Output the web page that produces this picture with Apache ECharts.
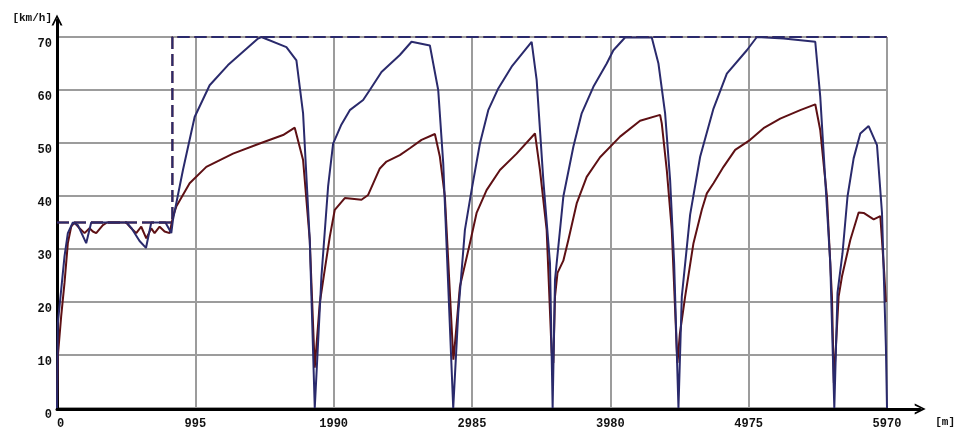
<!DOCTYPE html>
<html>
<head>
<meta charset="utf-8">
<script src="https://cdn.jsdelivr.net/npm/echarts@6/dist/echarts.min.js"></script>
<style>
html,body{margin:0;padding:0;background:#fff;}
#chart{width:958px;height:430px;}
</style>
</head>
<body>
<div id="chart"></div>
<script>
// Distance ticks [m] and speed ticks [km/h]
const xTicks = [0, 995, 1990, 2985, 3980, 4975, 5970];
const yTicks = [0, 10, 20, 30, 40, 50, 60, 70];

// Speed limit (dashed)
const limitDist  = [0, 830, 830, 5970];
const limitSpeed = [35, 35, 70, 70];

// Navy speed curve
const blueDist  = [0, 6, 30, 54, 78, 114, 150, 210, 246, 300, 500, 534, 594, 640, 678, 780, 822, 834, 906, 990, 1098, 1230, 1446, 1470, 1650, 1722, 1770, 1818, 1854, 1902, 1950, 1986, 2046, 2106, 2202, 2250, 2334, 2466, 2550, 2682, 2742, 2778, 2850, 2886, 2934, 2982, 3042, 3102, 3174, 3270, 3414, 3450, 3498, 3546, 3565, 3582, 3642, 3714, 3774, 3858, 3954, 4002, 4086, 4278, 4326, 4374, 4410, 4439, 4470, 4494, 4554, 4626, 4722, 4818, 4962, 5034, 5226, 5454, 5490, 5526, 5562, 5591, 5614, 5650, 5686, 5730, 5778, 5838, 5898, 5934, 5962, 5970];
const blueSpeed = [0, 16, 22.3, 28.6, 33, 35, 34.5, 31.1, 35, 35, 35, 34, 31.5, 30.2, 35, 35, 33, 35.5, 44.9, 54.9, 60.9, 64.7, 69.7, 70, 68.1, 65.6, 55.6, 31.7, 0, 24.8, 41.8, 49.9, 53.5, 56.2, 58.1, 60, 63.4, 66.6, 69.1, 68.4, 60, 46.2, 0, 17.9, 33.6, 41.1, 49.9, 56.2, 60.3, 64.4, 69.1, 61.9, 43, 27.3, 0, 24.2, 39.9, 49.3, 55.6, 60.6, 65, 67.5, 69.9, 69.9, 65, 55.6, 43, 27.3, 0, 21, 36.5, 47.4, 56.5, 63.1, 67.5, 70, 69.7, 69.1, 58.7, 43, 27.3, 0, 21.7, 29.2, 39.9, 47.1, 51.8, 53.2, 49.6, 36.8, 11.6, 0];

// Dark red speed curve
const redDist  = [0, 6, 30, 54, 78, 102, 126, 162, 198, 234, 258, 282, 330, 360, 498, 534, 570, 606, 642, 678, 702, 738, 774, 810, 834, 858, 954, 1074, 1266, 1458, 1626, 1710, 1770, 1818, 1854, 1890, 1926, 1962, 1998, 2070, 2190, 2238, 2322, 2370, 2466, 2538, 2622, 2718, 2754, 2790, 2851, 2862, 2898, 2970, 3018, 3090, 3186, 3306, 3438, 3474, 3522, 3558, 3570, 3582, 3600, 3642, 3678, 3738, 3810, 3906, 4050, 4194, 4338, 4350, 4386, 4422, 4458, 4463, 4480, 4518, 4578, 4638, 4674, 4722, 4794, 4878, 4986, 5082, 5202, 5346, 5454, 5490, 5538, 5574, 5588, 5622, 5646, 5706, 5766, 5802, 5874, 5922, 5950, 5962];
const redSpeed = [0, 9.8, 17.3, 23.6, 31.1, 34.2, 35, 33.9, 33, 33.9, 33.3, 33, 34.5, 35, 35, 33.9, 33, 34.2, 32, 33.9, 33, 34.2, 33.3, 33, 36.1, 38, 42.4, 45.5, 48, 49.9, 51.5, 52.9, 46.8, 31.7, 7.6, 19.8, 26.1, 32.3, 37.4, 39.6, 39.3, 40.2, 45.2, 46.5, 47.7, 49, 50.6, 51.7, 47.4, 39.9, 9.1, 12, 22.9, 31.1, 36.8, 41.1, 44.9, 48, 51.8, 44.9, 33.6, 10.4, 8.5, 21, 25.5, 27.8, 31.7, 38.6, 43.6, 47.3, 51.2, 54.2, 55.3, 53.7, 44.9, 33.6, 11, 8.5, 14, 21, 31.1, 37.4, 40.5, 42.4, 45.5, 48.7, 50.6, 52.8, 54.6, 56.2, 57.3, 52.4, 39.9, 21, 4.7, 21, 24.8, 31.7, 36.9, 36.8, 35.6, 36.2, 25.5, 20];

function pairs(xs, ys) { return xs.map((x, i) => [x, ys[i]]); }

const NAVY = '#2a2a6c';
const RED = '#5e1014';
const FONT = 'Liberation Mono';
const arrowPath = 'path://M0,10 L5,0 L10,10 L8.2,10 L5,3.2 L1.8,10 Z';

const chart = echarts.init(document.getElementById('chart'), null, {renderer: 'canvas'});
chart.setOption({
  animation: false,
  backgroundColor: '#ffffff',
  grid: [
    {left: 57, right: 71, top: 37, bottom: 21},
    {left: 57, right: 33, top: 20, bottom: 21}
  ],
  xAxis: [
    {
      type: 'value', gridIndex: 0, min: xTicks[0], max: xTicks[xTicks.length - 1], interval: xTicks[1] - xTicks[0],
      axisLine: {show: false}, axisTick: {show: false},
      splitLine: {show: true, lineStyle: {color: '#9c9c9c', width: 2}},
      axisLabel: {show: true, margin: 10, color: '#111', fontFamily: FONT, fontWeight: 'bold', fontSize: 12, alignMinLabel: 'left', formatter: v => String(v)}
    },
    {
      type: 'value', gridIndex: 1, min: 0, max: 1,
      axisLine: {show: true, symbol: ['none', arrowPath], symbolSize: [11, 14], lineStyle: {color: '#000', width: 3}},
      axisTick: {show: false}, axisLabel: {show: false}, splitLine: {show: false},
      name: '[m]', nameLocation: 'end', nameGap: 15,
      nameTextStyle: {color: '#111', fontFamily: FONT, fontWeight: 'bold', fontSize: 11, verticalAlign: 'top', padding: [8, 0, 0, 0]}
    }
  ],
  yAxis: [
    {
      type: 'value', gridIndex: 0, min: yTicks[0], max: yTicks[yTicks.length - 1], interval: yTicks[1] - yTicks[0],
      axisLine: {show: false}, axisTick: {show: false},
      splitLine: {show: true, lineStyle: {color: '#9c9c9c', width: 2}},
      axisLabel: {show: true, margin: 5, color: '#111', fontFamily: FONT, fontWeight: 'bold', fontSize: 12, verticalAlign: 'top', padding: [1, 0, 0, 0], formatter: v => String(v)}
    },
    {
      type: 'value', gridIndex: 1, min: 0, max: 1,
      axisLine: {show: true, symbol: ['none', arrowPath], symbolSize: [11, 14], lineStyle: {color: '#000', width: 3}},
      axisTick: {show: false}, axisLabel: {show: false}, splitLine: {show: false},
      name: '[km/h]', nameLocation: 'end', nameGap: 2,
      nameTextStyle: {color: '#111', fontFamily: FONT, fontWeight: 'bold', fontSize: 11, align: 'right', verticalAlign: 'middle', padding: [0, 5, 0, 0]}
    }
  ],
  series: [
    {
      name: 'red', type: 'line', xAxisIndex: 0, yAxisIndex: 0, data: pairs(redDist, redSpeed),
      showSymbol: false, symbol: 'none', lineStyle: {color: RED, width: 2}, z: 3
    },
    {
      name: 'blue', type: 'line', xAxisIndex: 0, yAxisIndex: 0, data: pairs(blueDist, blueSpeed),
      showSymbol: false, symbol: 'none', lineStyle: {color: NAVY, width: 2}, z: 4
    },
    {
      name: 'limitRed', type: 'line', xAxisIndex: 0, yAxisIndex: 0, data: pairs(limitDist, limitSpeed),
      showSymbol: false, symbol: 'none', lineStyle: {color: RED, width: 2, type: [12, 5], dashOffset: 0}, z: 5
    },
    {
      name: 'limit', type: 'line', xAxisIndex: 0, yAxisIndex: 0, data: pairs(limitDist, limitSpeed),
      showSymbol: false, symbol: 'none', lineStyle: {color: NAVY, width: 2, type: [12, 5], dashOffset: 0}, z: 6
    }
  ]
});
</script>
</body>
</html>
